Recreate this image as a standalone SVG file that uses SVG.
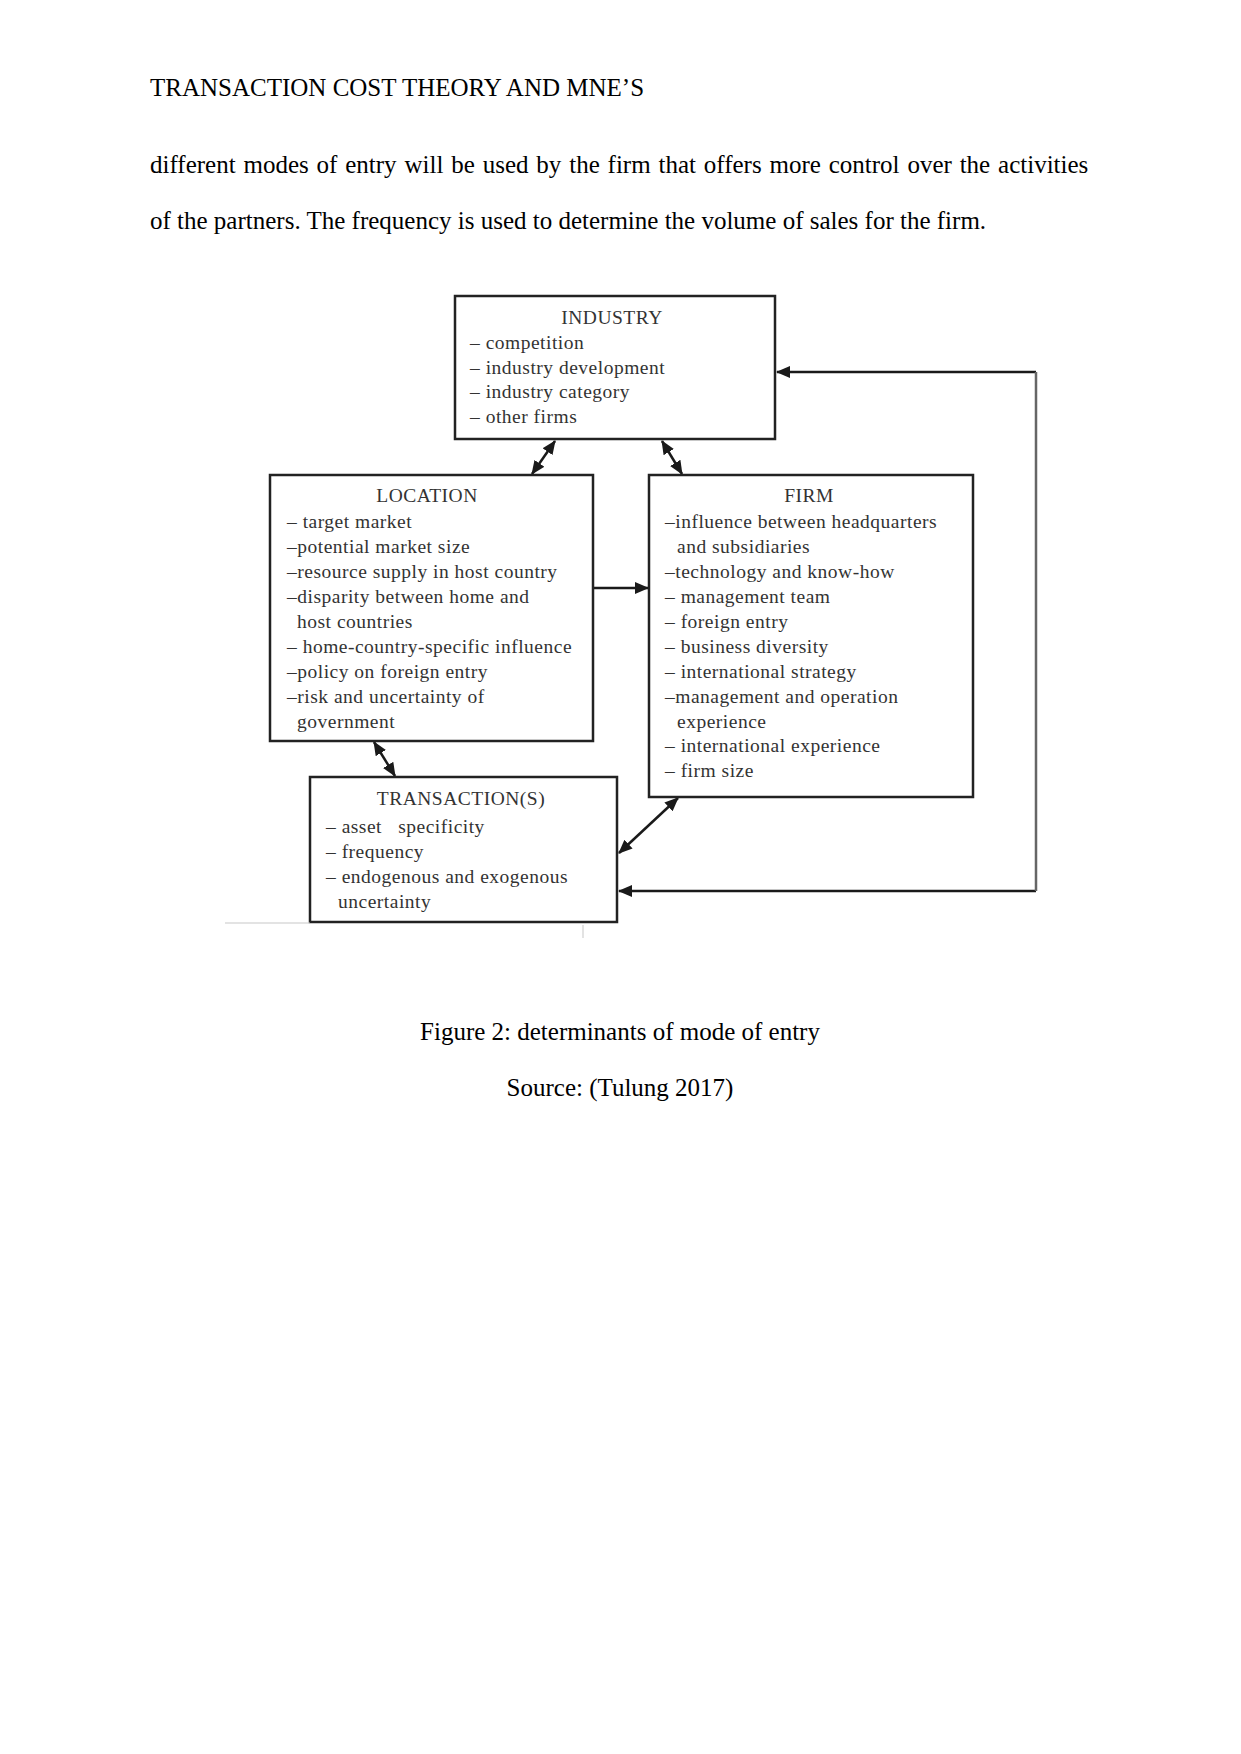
<svg xmlns="http://www.w3.org/2000/svg" width="1241" height="1754" viewBox="0 0 1241 1754">
<style>
.page{font-family:"Liberation Serif","Times New Roman",serif;font-size:25px;fill:#000}
.box{fill:#fff;stroke:#222;stroke-width:2.5}
.t{font-family:"Liberation Serif","Times New Roman",serif;font-size:19.5px;letter-spacing:0.5px;fill:#333}
.h{text-anchor:middle}
.con{stroke:#1a1a1a;stroke-width:2.5;fill:none}
</style>
<defs>
<marker id="ah" markerUnits="userSpaceOnUse" markerWidth="14" markerHeight="12" refX="13" refY="6" orient="auto-start-reverse">
<path d="M0,0 L14,6 L0,12 Z" fill="#1a1a1a"/>
</marker>
</defs>
<rect width="1241" height="1754" fill="#fff"/>
<text class="page" x="150" y="96">TRANSACTION COST THEORY AND MNE’S</text>
<text class="page" x="150" y="173" word-spacing="1.6">different modes of entry will be used by the firm that offers more control over the activities</text>
<text class="page" x="150" y="229">of the partners. The frequency is used to determine the volume of sales for the firm.</text>
<g id="connectors">
<line class="con" x1="555" y1="441" x2="532" y2="474" marker-start="url(#ah)" marker-end="url(#ah)"/>
<line class="con" x1="662" y1="441" x2="682" y2="474" marker-start="url(#ah)" marker-end="url(#ah)"/>
<line class="con" x1="594" y1="588" x2="648" y2="588" marker-end="url(#ah)"/>
<line class="con" x1="374" y1="742" x2="395" y2="776" marker-start="url(#ah)" marker-end="url(#ah)"/>
<line class="con" x1="678" y1="798" x2="619" y2="853" marker-start="url(#ah)" marker-end="url(#ah)"/>
<path class="con" d="M1036,891 L619,891" marker-end="url(#ah)"/>
<path class="con" d="M1036,372 L777,372" marker-end="url(#ah)"/>
<path d="M1036,372 L1036,891" stroke="#666" stroke-width="2.5" fill="none"/>
</g>
<g id="industry">
<rect class="box" x="455" y="296" width="320" height="143"/>
<text class="t h" x="612" y="324">INDUSTRY</text>
<text class="t" x="470" y="349">– competition</text>
<text class="t" x="470" y="374">– industry development</text>
<text class="t" x="470" y="398">– industry category</text>
<text class="t" x="470" y="423">– other firms</text>
</g>
<g id="location">
<rect class="box" x="270" y="475" width="323" height="266"/>
<text class="t h" x="427" y="502">LOCATION</text>
<text class="t" x="287" y="528">– target market</text>
<text class="t" x="287" y="553">–potential market size</text>
<text class="t" x="287" y="578">–resource supply in host country</text>
<text class="t" x="287" y="603">–disparity between home and</text>
<text class="t" x="297" y="628">host countries</text>
<text class="t" x="287" y="653">– home-country-specific influence</text>
<text class="t" x="287" y="678">–policy on foreign entry</text>
<text class="t" x="287" y="703">–risk and uncertainty of</text>
<text class="t" x="297" y="728">government</text>
</g>
<g id="firm">
<rect class="box" x="649" y="475" width="324" height="322"/>
<text class="t h" x="809" y="502">FIRM</text>
<text class="t" x="665" y="528">–influence between headquarters</text>
<text class="t" x="677" y="553">and subsidiaries</text>
<text class="t" x="665" y="578">–technology and know-how</text>
<text class="t" x="665" y="603">– management team</text>
<text class="t" x="665" y="628">– foreign entry</text>
<text class="t" x="665" y="653">– business diversity</text>
<text class="t" x="665" y="678">– international strategy</text>
<text class="t" x="665" y="703">–management and operation</text>
<text class="t" x="677" y="728">experience</text>
<text class="t" x="665" y="752">– international experience</text>
<text class="t" x="665" y="777">– firm size</text>
</g>
<g id="transactions">
<rect class="box" x="310" y="777" width="307" height="145"/>
<text class="t h" x="461" y="805">TRANSACTION(S)</text>
<text class="t" x="326" y="833" xml:space="preserve">– asset   specificity</text>
<text class="t" x="326" y="858">– frequency</text>
<text class="t" x="326" y="883">– endogenous and exogenous</text>
<text class="t" x="338" y="908">uncertainty</text>
</g>
<line x1="225" y1="923" x2="310" y2="923" stroke="#c8c8c8" stroke-width="1.2"/>
<line x1="583" y1="925" x2="583" y2="938" stroke="#d0d0d0" stroke-width="1.2"/>
<text class="page" x="620" y="1040" text-anchor="middle">Figure 2: determinants of mode of entry</text>
<text class="page" x="620" y="1096" text-anchor="middle">Source: (Tulung 2017)</text>
</svg>
